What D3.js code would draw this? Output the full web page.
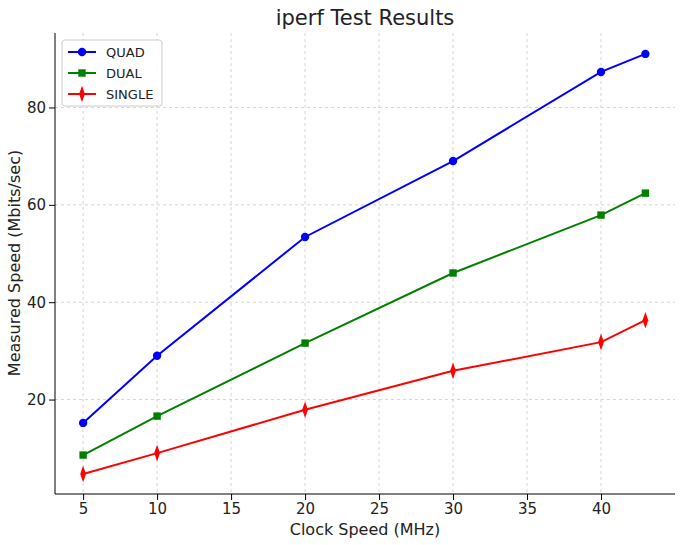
<!DOCTYPE html>
<html><head><meta charset="utf-8">
<script src="https://cdn.jsdelivr.net/npm/d3@7"></script>
<style>body{margin:0;background:#fff}text{font-family:"DejaVu Sans",sans-serif}</style>
</head><body><svg id="chart" width="681" height="545"></svg>
<script>
var clock = [5, 10, 20, 30, 40, 43],
    quad = [15.2, 29, 53.4, 69, 87.3, 91],
    dual = [8.6, 16.6, 31.6, 46, 57.9, 62.4],
    single = [4.7, 9, 17.9, 25.9, 31.8, 36.3],
    xTicks = [5, 10, 15, 20, 25, 30, 35, 40],
    yTicks = [20, 40, 60, 80];

var series = [
  {name: 'QUAD', values: quad, color: '#0000ff', shape: 'circle'},
  {name: 'DUAL', values: dual, color: '#008000', shape: 'square'},
  {name: 'SINGLE', values: single, color: '#ff0000', shape: 'diamond'}
];

var svg = d3.select('#chart'),
    m = {left: 55, right: 675, top: 33, bottom: 494};

var x = d3.scaleLinear().domain([3.1, 45]).range([m.left, m.right]),
    y = d3.scaleLinear().domain([0.6, 95.3]).range([m.bottom, m.top]);

// grid
svg.append('g').selectAll('line').data(xTicks).enter().append('line')
  .attr('x1', x).attr('x2', x).attr('y1', m.top).attr('y2', m.bottom)
  .attr('stroke', '#ccc').attr('stroke-dasharray', '3,3').attr('stroke-width', 0.8);
svg.append('g').selectAll('line').data(yTicks).enter().append('line')
  .attr('y1', y).attr('y2', y).attr('x1', m.left).attr('x2', m.right)
  .attr('stroke', '#ccc').attr('stroke-dasharray', '3,3').attr('stroke-width', 0.8);

var xAxis = svg.append('g').attr('transform', 'translate(0,' + m.bottom + ')')
  .call(d3.axisBottom(x).tickValues(xTicks).tickSizeOuter(0));
var yAxis = svg.append('g').attr('transform', 'translate(' + m.left + ',0)')
  .call(d3.axisLeft(y).tickValues(yTicks).tickSizeOuter(0));
[xAxis, yAxis].forEach(function(a){
  a.selectAll('text').style('font-size', '15px').attr('fill', '#222');
  a.select('.domain').remove();
});
svg.append('path')
  .attr('d', 'M' + m.left + ',' + m.top + 'V' + m.bottom + 'H' + m.right)
  .attr('fill', 'none').attr('stroke', '#000').attr('stroke-width', 1);

var line = d3.line().x(function(d){return x(d[0]);}).y(function(d){return y(d[1]);});
var sym = {circle: d3.symbolCircle, square: d3.symbolSquare, diamond: d3.symbolDiamond};

series.forEach(function(s){
  var pts = clock.map(function(c, i){return [c, s.values[i]];});
  svg.append('path').datum(pts).attr('d', line)
    .attr('fill', 'none').attr('stroke', s.color).attr('stroke-width', 2);
  svg.append('g').selectAll('path').data(pts).enter().append('path')
    .attr('transform', function(d){
      return 'translate(' + x(d[0]) + ',' + y(d[1]) + ')' + (s.shape == 'diamond' ? ' scale(0.6,1)' : '');
    })
    .attr('d', d3.symbol().type(sym[s.shape]).size(s.shape == 'diamond' ? 80 : 55))
    .attr('fill', s.color);
});

// legend
var lg = svg.append('g');
lg.append('rect').attr('x', 62).attr('y', 40).attr('width', 100).attr('height', 66)
  .attr('rx', 3).attr('fill', '#fff').attr('fill-opacity', 0.85).attr('stroke', '#ccc');
series.forEach(function(s, i){
  var yy = 52 + i * 21;
  lg.append('line').attr('x1', 68).attr('x2', 96).attr('y1', yy).attr('y2', yy)
    .attr('stroke', s.color).attr('stroke-width', 2);
  lg.append('path').attr('transform', 'translate(82,' + yy + ')' + (s.shape == 'diamond' ? ' scale(0.6,1)' : ''))
    .attr('d', d3.symbol().type(sym[s.shape]).size(s.shape == 'diamond' ? 80 : 55)).attr('fill', s.color);
  lg.append('text').attr('x', 106).attr('y', yy + 5).text(s.name)
    .style('font-size', '13px').attr('fill', '#222');
});

svg.append('text').attr('x', 365).attr('y', 25).attr('text-anchor', 'middle')
  .style('font-size', '21px').attr('fill', '#222').text('iperf Test Results');
svg.append('text').attr('x', 365).attr('y', 535).attr('text-anchor', 'middle')
  .style('font-size', '16px').attr('fill', '#222').text('Clock Speed (MHz)');
svg.append('text').attr('transform', 'translate(20,263) rotate(-90)').attr('text-anchor', 'middle')
  .style('font-size', '16px').attr('fill', '#222').text('Measured Speed (Mbits/sec)');
</script></body></html>
